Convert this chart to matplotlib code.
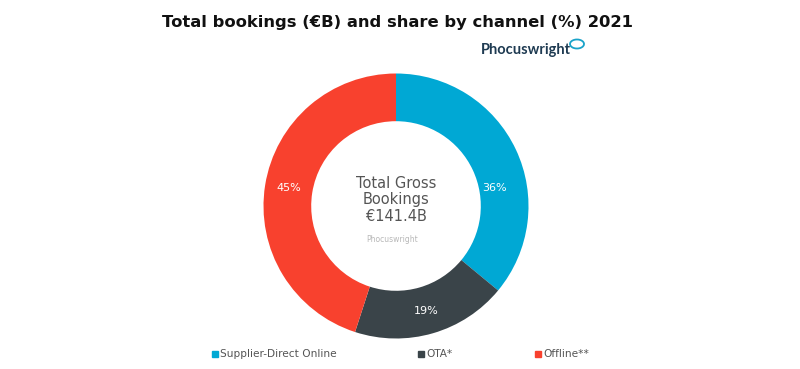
import matplotlib.pyplot as plt
from matplotlib.patches import Arc

# Data
channels = ["Supplier-Direct Online", "OTA*", "Offline**"]
shares = [36, 19, 45]
colors = ["#00A8D4", "#3A4449", "#F8412E"]
total_label = "Total Gross\nBookings\n€141.4B"

W, H = 800, 369
fig = plt.figure(figsize=(W / 100, H / 100), dpi=100)

def px(x, y):
    # pixel coords (top-left origin) -> figure fraction
    return x / W, 1 - y / H

# Donut axes
cx, cy, r = 396, 206, 132.5
ax = fig.add_axes([(cx - r) / W, (H - cy - r) / H, 2 * r / W, 2 * r / H])
wedges, texts = ax.pie(shares, colors=colors, startangle=90, counterclock=False,
                       radius=1, wedgeprops=dict(width=0.36, edgecolor="none"))
ax.set_xlim(-1, 1)
ax.set_ylim(-1, 1)
ax.set_aspect("equal")
ax.axis("off")

# percentage labels inside the ring
pct_pos = [(494, 188), (426, 311), (289, 188)]
for (x, y), s in zip(pct_pos, shares):
    fig.text(*px(x, y), f"{s}%", color="white", fontsize=8,
             ha="center", va="center")

# center text
fig.text(*px(396, 200), total_label, color="#555555", fontsize=10.5,
         ha="center", va="center", linespacing=1.15)
fig.text(*px(392, 240), "Phocuswright", color="#B8B8B8", fontsize=5.5,
         ha="center", va="center")

# title and logo
fig.text(*px(397, 22), "Total bookings (€B) and share by channel (%) 2021",
         fontsize=11.8, fontweight="bold", ha="center", va="center",
         color="#111111")
fig.text(*px(526, 50), "Phocuswright", fontsize=10.5, color="#1F3B52",
         ha="center", va="center", fontfamily="Lato", fontweight="bold")
logo_ax = fig.add_axes([0, 0, 1, 1], facecolor="none")
logo_ax.set_xlim(0, W)
logo_ax.set_ylim(H, 0)
logo_ax.axis("off")
logo_ax.add_patch(Arc((577, 44), 14, 9, theta1=-200, theta2=160,
                      color="#1AA3C9", lw=1.3))

# legend
leg_x = [215, 421, 538]
for x, name, c in zip(leg_x, channels, colors):
    logo_ax.add_patch(plt.Rectangle((x - 3, 351), 5.5, 5.5, color=c))
    fig.text(*px(x + 5, 354), name, fontsize=7.6, color="#555555",
             ha="left", va="center")

plt.savefig("out.png", dpi=100)
